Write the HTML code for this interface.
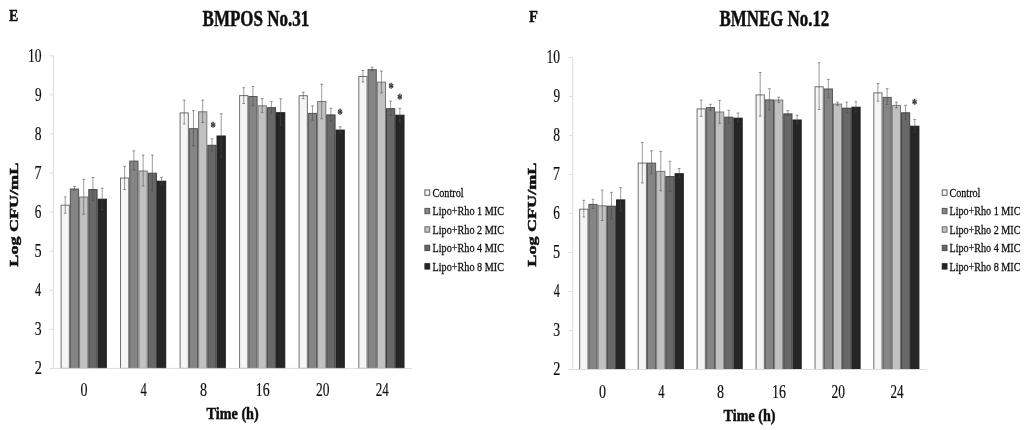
<!DOCTYPE html>
<html lang="en"><head><meta charset="utf-8"><title>Time-kill curves</title>
<style>
html,body{margin:0;padding:0;background:#fff;}
body{width:1024px;height:430px;overflow:hidden;}
svg{display:block;font-family:"Liberation Serif","Times New Roman",serif;}
</style></head><body>
<svg width="1024" height="430" viewBox="0 0 1024 430">
<defs><filter id="soft" x="0" y="0" width="1024" height="430" filterUnits="userSpaceOnUse"><feGaussianBlur stdDeviation="0.45"/></filter></defs>
<rect width="1024" height="430" fill="#fff"/>
<g filter="url(#soft)">
<rect x="61.10" y="205.20" width="8.24" height="163.20" fill="#f5f5f5" stroke="#707070" stroke-width="1"/>
<rect x="70.34" y="189.00" width="8.24" height="179.40" fill="#858585" stroke="#555555" stroke-width="1"/>
<rect x="79.58" y="197.00" width="8.24" height="171.40" fill="#c1c1c1" stroke="#787878" stroke-width="1"/>
<rect x="88.82" y="189.60" width="8.24" height="178.80" fill="#676767" stroke="#444444" stroke-width="1"/>
<rect x="98.06" y="199.20" width="8.24" height="169.20" fill="#262626" stroke="#1c1c1c" stroke-width="1"/>
<rect x="120.50" y="178.00" width="8.24" height="190.40" fill="#f5f5f5" stroke="#707070" stroke-width="1"/>
<rect x="129.74" y="161.10" width="8.24" height="207.30" fill="#858585" stroke="#555555" stroke-width="1"/>
<rect x="138.98" y="171.00" width="8.24" height="197.40" fill="#c1c1c1" stroke="#787878" stroke-width="1"/>
<rect x="148.22" y="173.20" width="8.24" height="195.20" fill="#676767" stroke="#444444" stroke-width="1"/>
<rect x="157.46" y="181.20" width="8.24" height="187.20" fill="#262626" stroke="#1c1c1c" stroke-width="1"/>
<rect x="180.10" y="112.90" width="8.24" height="255.50" fill="#f5f5f5" stroke="#707070" stroke-width="1"/>
<rect x="189.34" y="128.70" width="8.24" height="239.70" fill="#858585" stroke="#555555" stroke-width="1"/>
<rect x="198.58" y="111.80" width="8.24" height="256.60" fill="#c1c1c1" stroke="#787878" stroke-width="1"/>
<rect x="207.82" y="145.30" width="8.24" height="223.10" fill="#676767" stroke="#444444" stroke-width="1"/>
<rect x="217.06" y="136.00" width="8.24" height="232.40" fill="#262626" stroke="#1c1c1c" stroke-width="1"/>
<rect x="239.60" y="95.60" width="8.24" height="272.80" fill="#f5f5f5" stroke="#707070" stroke-width="1"/>
<rect x="248.84" y="96.50" width="8.24" height="271.90" fill="#858585" stroke="#555555" stroke-width="1"/>
<rect x="258.08" y="105.80" width="8.24" height="262.60" fill="#c1c1c1" stroke="#787878" stroke-width="1"/>
<rect x="267.32" y="107.70" width="8.24" height="260.70" fill="#676767" stroke="#444444" stroke-width="1"/>
<rect x="276.56" y="112.70" width="8.24" height="255.70" fill="#262626" stroke="#1c1c1c" stroke-width="1"/>
<rect x="299.10" y="95.70" width="8.24" height="272.70" fill="#f5f5f5" stroke="#707070" stroke-width="1"/>
<rect x="308.34" y="113.40" width="8.24" height="255.00" fill="#858585" stroke="#555555" stroke-width="1"/>
<rect x="317.58" y="101.50" width="8.24" height="266.90" fill="#c1c1c1" stroke="#787878" stroke-width="1"/>
<rect x="326.82" y="114.90" width="8.24" height="253.50" fill="#676767" stroke="#444444" stroke-width="1"/>
<rect x="336.06" y="130.10" width="8.24" height="238.30" fill="#262626" stroke="#1c1c1c" stroke-width="1"/>
<rect x="358.80" y="76.50" width="8.24" height="291.90" fill="#f5f5f5" stroke="#707070" stroke-width="1"/>
<rect x="368.04" y="69.70" width="8.24" height="298.70" fill="#858585" stroke="#555555" stroke-width="1"/>
<rect x="377.28" y="82.10" width="8.24" height="286.30" fill="#c1c1c1" stroke="#787878" stroke-width="1"/>
<rect x="386.52" y="108.70" width="8.24" height="259.70" fill="#676767" stroke="#444444" stroke-width="1"/>
<rect x="395.76" y="115.20" width="8.24" height="253.20" fill="#262626" stroke="#1c1c1c" stroke-width="1"/>
<path d="M53.40 55.75V368.40H412.00" fill="none" stroke="#dcdcdc" stroke-width="1"/>
<path d="M49.40 368.40H53.40" stroke="#dcdcdc" stroke-width="1"/>
<path d="M49.40 329.32H53.40" stroke="#dcdcdc" stroke-width="1"/>
<path d="M49.40 290.24H53.40" stroke="#dcdcdc" stroke-width="1"/>
<path d="M49.40 251.16H53.40" stroke="#dcdcdc" stroke-width="1"/>
<path d="M49.40 212.07H53.40" stroke="#dcdcdc" stroke-width="1"/>
<path d="M49.40 172.99H53.40" stroke="#dcdcdc" stroke-width="1"/>
<path d="M49.40 133.91H53.40" stroke="#dcdcdc" stroke-width="1"/>
<path d="M49.40 94.83H53.40" stroke="#dcdcdc" stroke-width="1"/>
<path d="M49.40 55.75H53.40" stroke="#dcdcdc" stroke-width="1"/>
<path d="M65.22 196.90V213.30M63.82 196.90h2.8M63.82 213.30h2.8" stroke="#4a4a4a" stroke-width="0.55" fill="none"/>
<path d="M74.46 186.50V190.30M73.06 186.50h2.8M73.06 190.30h2.8" stroke="#4a4a4a" stroke-width="0.55" fill="none"/>
<path d="M83.70 179.40V214.20M82.30 179.40h2.8M82.30 214.20h2.8" stroke="#4a4a4a" stroke-width="0.55" fill="none"/>
<path d="M92.94 177.50V200.60M91.54 177.50h2.8M91.54 200.60h2.8" stroke="#4a4a4a" stroke-width="0.55" fill="none"/>
<path d="M102.18 188.10V209.50M100.78 188.10h2.8M100.78 209.50h2.8" stroke="#4a4a4a" stroke-width="0.55" fill="none"/>
<path d="M124.62 166.40V189.60M123.22 166.40h2.8M123.22 189.60h2.8" stroke="#4a4a4a" stroke-width="0.55" fill="none"/>
<path d="M133.86 150.90V170.10M132.46 150.90h2.8M132.46 170.10h2.8" stroke="#4a4a4a" stroke-width="0.55" fill="none"/>
<path d="M143.10 155.20V185.90M141.70 155.20h2.8M141.70 185.90h2.8" stroke="#4a4a4a" stroke-width="0.55" fill="none"/>
<path d="M152.34 155.00V190.60M150.94 155.00h2.8M150.94 190.60h2.8" stroke="#4a4a4a" stroke-width="0.55" fill="none"/>
<path d="M161.58 177.30V184.00M160.18 177.30h2.8M160.18 184.00h2.8" stroke="#4a4a4a" stroke-width="0.55" fill="none"/>
<path d="M184.22 100.10V124.00M182.82 100.10h2.8M182.82 124.00h2.8" stroke="#4a4a4a" stroke-width="0.55" fill="none"/>
<path d="M193.46 110.60V145.90M192.06 110.60h2.8M192.06 145.90h2.8" stroke="#4a4a4a" stroke-width="0.55" fill="none"/>
<path d="M202.70 100.10V122.50M201.30 100.10h2.8M201.30 122.50h2.8" stroke="#4a4a4a" stroke-width="0.55" fill="none"/>
<path d="M211.94 138.80V150.80M210.54 138.80h2.8M210.54 150.80h2.8" stroke="#4a4a4a" stroke-width="0.55" fill="none"/>
<path d="M221.18 113.70V157.30M219.78 113.70h2.8M219.78 157.30h2.8" stroke="#4a4a4a" stroke-width="0.55" fill="none"/>
<path d="M243.72 87.70V103.50M242.32 87.70h2.8M242.32 103.50h2.8" stroke="#4a4a4a" stroke-width="0.55" fill="none"/>
<path d="M252.96 86.40V105.70M251.56 86.40h2.8M251.56 105.70h2.8" stroke="#4a4a4a" stroke-width="0.55" fill="none"/>
<path d="M262.20 98.50V112.40M260.80 98.50h2.8M260.80 112.40h2.8" stroke="#4a4a4a" stroke-width="0.55" fill="none"/>
<path d="M271.44 101.60V113.20M270.04 101.60h2.8M270.04 113.20h2.8" stroke="#4a4a4a" stroke-width="0.55" fill="none"/>
<path d="M280.68 98.80V125.60M279.28 98.80h2.8M279.28 125.60h2.8" stroke="#4a4a4a" stroke-width="0.55" fill="none"/>
<path d="M303.22 92.20V98.70M301.82 92.20h2.8M301.82 98.70h2.8" stroke="#4a4a4a" stroke-width="0.55" fill="none"/>
<path d="M312.46 105.80V120.10M311.06 105.80h2.8M311.06 120.10h2.8" stroke="#4a4a4a" stroke-width="0.55" fill="none"/>
<path d="M321.70 84.20V118.80M320.30 84.20h2.8M320.30 118.80h2.8" stroke="#4a4a4a" stroke-width="0.55" fill="none"/>
<path d="M330.94 108.20V120.70M329.54 108.20h2.8M329.54 120.70h2.8" stroke="#4a4a4a" stroke-width="0.55" fill="none"/>
<path d="M340.18 126.80V132.40M338.78 126.80h2.8M338.78 132.40h2.8" stroke="#4a4a4a" stroke-width="0.55" fill="none"/>
<path d="M362.92 70.50V82.00M361.52 70.50h2.8M361.52 82.00h2.8" stroke="#4a4a4a" stroke-width="0.55" fill="none"/>
<path d="M372.16 67.10V70.80M370.76 67.10h2.8M370.76 70.80h2.8" stroke="#4a4a4a" stroke-width="0.55" fill="none"/>
<path d="M381.40 71.00V92.80M380.00 71.00h2.8M380.00 92.80h2.8" stroke="#4a4a4a" stroke-width="0.55" fill="none"/>
<path d="M390.64 101.20V115.50M389.24 101.20h2.8M389.24 115.50h2.8" stroke="#4a4a4a" stroke-width="0.55" fill="none"/>
<path d="M399.88 108.20V121.60M398.48 108.20h2.8M398.48 121.60h2.8" stroke="#4a4a4a" stroke-width="0.55" fill="none"/>
<text transform="matrix(0.7767 0 0 1 34.66 374.25)" font-size="18.35" font-weight="normal" fill="#111" stroke="#111" stroke-width="0.2">2</text>
<text transform="matrix(0.7487 0 0 1 34.68 335.17)" font-size="18.35" font-weight="normal" fill="#111" stroke="#111" stroke-width="0.2">3</text>
<text transform="matrix(0.6682 0 0 1 35.05 296.09)" font-size="18.35" font-weight="normal" fill="#111" stroke="#111" stroke-width="0.2">4</text>
<text transform="matrix(0.7767 0 0 1 34.45 257.01)" font-size="18.35" font-weight="normal" fill="#111" stroke="#111" stroke-width="0.2">5</text>
<text transform="matrix(0.7226 0 0 1 34.77 217.92)" font-size="18.35" font-weight="normal" fill="#111" stroke="#111" stroke-width="0.2">6</text>
<text transform="matrix(0.7672 0 0 1 34.39 178.84)" font-size="18.35" font-weight="normal" fill="#111" stroke="#111" stroke-width="0.2">7</text>
<text transform="matrix(0.7398 0 0 1 34.76 139.76)" font-size="18.35" font-weight="normal" fill="#111" stroke="#111" stroke-width="0.2">8</text>
<text transform="matrix(0.7226 0 0 1 34.90 100.68)" font-size="18.35" font-weight="normal" fill="#111" stroke="#111" stroke-width="0.2">9</text>
<text transform="matrix(0.7413 0 0 1 27.94 61.60)" font-size="18.35" font-weight="normal" fill="#111" stroke="#111" stroke-width="0.2">10</text>
<text transform="matrix(0.7720 0 0 1 80.62 396.30)" font-size="18.20" font-weight="normal" fill="#111" stroke="#111" stroke-width="0.2">0</text>
<text transform="matrix(0.6973 0 0 1 140.60 396.30)" font-size="18.20" font-weight="normal" fill="#111" stroke="#111" stroke-width="0.2">4</text>
<text transform="matrix(0.7720 0 0 1 199.95 396.30)" font-size="18.20" font-weight="normal" fill="#111" stroke="#111" stroke-width="0.2">8</text>
<text transform="matrix(0.7638 0 0 1 255.80 396.30)" font-size="18.20" font-weight="normal" fill="#111" stroke="#111" stroke-width="0.2">16</text>
<text transform="matrix(0.7388 0 0 1 316.05 396.30)" font-size="18.20" font-weight="normal" fill="#111" stroke="#111" stroke-width="0.2">20</text>
<text transform="matrix(0.7191 0 0 1 375.73 396.30)" font-size="18.20" font-weight="normal" fill="#111" stroke="#111" stroke-width="0.2">24</text>
<text transform="matrix(0.6773 0 0 1 210.38 132.21)" font-size="15.47" font-weight="bold" fill="#333" stroke="#333" stroke-width="0.35">*</text>
<text transform="matrix(0.6773 0 0 1 337.58 118.71)" font-size="15.47" font-weight="bold" fill="#333" stroke="#333" stroke-width="0.35">*</text>
<text transform="matrix(0.6773 0 0 1 388.38 93.01)" font-size="15.47" font-weight="bold" fill="#333" stroke="#333" stroke-width="0.35">*</text>
<text transform="matrix(0.6773 0 0 1 397.18 104.41)" font-size="15.47" font-weight="bold" fill="#333" stroke="#333" stroke-width="0.35">*</text>
<rect x="579.70" y="209.20" width="8.22" height="160.30" fill="#f5f5f5" stroke="#707070" stroke-width="1"/>
<rect x="588.92" y="204.40" width="8.22" height="165.10" fill="#858585" stroke="#555555" stroke-width="1"/>
<rect x="598.14" y="205.80" width="8.22" height="163.70" fill="#c1c1c1" stroke="#787878" stroke-width="1"/>
<rect x="607.36" y="206.20" width="8.22" height="163.30" fill="#676767" stroke="#444444" stroke-width="1"/>
<rect x="616.58" y="199.90" width="8.22" height="169.60" fill="#262626" stroke="#1c1c1c" stroke-width="1"/>
<rect x="638.20" y="163.10" width="8.22" height="206.40" fill="#f5f5f5" stroke="#707070" stroke-width="1"/>
<rect x="647.42" y="163.10" width="8.22" height="206.40" fill="#858585" stroke="#555555" stroke-width="1"/>
<rect x="656.64" y="171.40" width="8.22" height="198.10" fill="#c1c1c1" stroke="#787878" stroke-width="1"/>
<rect x="665.86" y="176.60" width="8.22" height="192.90" fill="#676767" stroke="#444444" stroke-width="1"/>
<rect x="675.08" y="173.70" width="8.22" height="195.80" fill="#262626" stroke="#1c1c1c" stroke-width="1"/>
<rect x="697.10" y="108.90" width="8.22" height="260.60" fill="#f5f5f5" stroke="#707070" stroke-width="1"/>
<rect x="706.32" y="107.60" width="8.22" height="261.90" fill="#858585" stroke="#555555" stroke-width="1"/>
<rect x="715.54" y="112.00" width="8.22" height="257.50" fill="#c1c1c1" stroke="#787878" stroke-width="1"/>
<rect x="724.76" y="117.20" width="8.22" height="252.30" fill="#676767" stroke="#444444" stroke-width="1"/>
<rect x="733.98" y="118.20" width="8.22" height="251.30" fill="#262626" stroke="#1c1c1c" stroke-width="1"/>
<rect x="756.10" y="94.90" width="8.22" height="274.60" fill="#f5f5f5" stroke="#707070" stroke-width="1"/>
<rect x="765.32" y="99.90" width="8.22" height="269.60" fill="#858585" stroke="#555555" stroke-width="1"/>
<rect x="774.54" y="100.10" width="8.22" height="269.40" fill="#c1c1c1" stroke="#787878" stroke-width="1"/>
<rect x="783.76" y="113.90" width="8.22" height="255.60" fill="#676767" stroke="#444444" stroke-width="1"/>
<rect x="792.98" y="120.00" width="8.22" height="249.50" fill="#262626" stroke="#1c1c1c" stroke-width="1"/>
<rect x="815.00" y="86.80" width="8.22" height="282.70" fill="#f5f5f5" stroke="#707070" stroke-width="1"/>
<rect x="824.22" y="89.00" width="8.22" height="280.50" fill="#858585" stroke="#555555" stroke-width="1"/>
<rect x="833.44" y="104.10" width="8.22" height="265.40" fill="#c1c1c1" stroke="#787878" stroke-width="1"/>
<rect x="842.66" y="108.20" width="8.22" height="261.30" fill="#676767" stroke="#444444" stroke-width="1"/>
<rect x="851.88" y="107.20" width="8.22" height="262.30" fill="#262626" stroke="#1c1c1c" stroke-width="1"/>
<rect x="873.80" y="92.90" width="8.22" height="276.60" fill="#f5f5f5" stroke="#707070" stroke-width="1"/>
<rect x="883.02" y="97.40" width="8.22" height="272.10" fill="#858585" stroke="#555555" stroke-width="1"/>
<rect x="892.24" y="105.40" width="8.22" height="264.10" fill="#c1c1c1" stroke="#787878" stroke-width="1"/>
<rect x="901.46" y="112.80" width="8.22" height="256.70" fill="#676767" stroke="#444444" stroke-width="1"/>
<rect x="910.68" y="126.20" width="8.22" height="243.30" fill="#262626" stroke="#1c1c1c" stroke-width="1"/>
<path d="M572.80 57.40V369.50H926.60" fill="none" stroke="#dcdcdc" stroke-width="1"/>
<path d="M568.80 369.50H572.80" stroke="#dcdcdc" stroke-width="1"/>
<path d="M568.80 330.49H572.80" stroke="#dcdcdc" stroke-width="1"/>
<path d="M568.80 291.48H572.80" stroke="#dcdcdc" stroke-width="1"/>
<path d="M568.80 252.46H572.80" stroke="#dcdcdc" stroke-width="1"/>
<path d="M568.80 213.45H572.80" stroke="#dcdcdc" stroke-width="1"/>
<path d="M568.80 174.44H572.80" stroke="#dcdcdc" stroke-width="1"/>
<path d="M568.80 135.42H572.80" stroke="#dcdcdc" stroke-width="1"/>
<path d="M568.80 96.41H572.80" stroke="#dcdcdc" stroke-width="1"/>
<path d="M568.80 57.40H572.80" stroke="#dcdcdc" stroke-width="1"/>
<path d="M583.81 200.30V217.00M582.41 200.30h2.8M582.41 217.00h2.8" stroke="#4a4a4a" stroke-width="0.55" fill="none"/>
<path d="M593.03 199.20V208.50M591.63 199.20h2.8M591.63 208.50h2.8" stroke="#4a4a4a" stroke-width="0.55" fill="none"/>
<path d="M602.25 190.10V220.50M600.85 190.10h2.8M600.85 220.50h2.8" stroke="#4a4a4a" stroke-width="0.55" fill="none"/>
<path d="M611.47 192.30V219.00M610.07 192.30h2.8M610.07 219.00h2.8" stroke="#4a4a4a" stroke-width="0.55" fill="none"/>
<path d="M620.69 187.70V211.00M619.29 187.70h2.8M619.29 211.00h2.8" stroke="#4a4a4a" stroke-width="0.55" fill="none"/>
<path d="M642.31 142.50V183.00M640.91 142.50h2.8M640.91 183.00h2.8" stroke="#4a4a4a" stroke-width="0.55" fill="none"/>
<path d="M651.53 150.80V173.70M650.13 150.80h2.8M650.13 173.70h2.8" stroke="#4a4a4a" stroke-width="0.55" fill="none"/>
<path d="M660.75 151.40V190.80M659.35 151.40h2.8M659.35 190.80h2.8" stroke="#4a4a4a" stroke-width="0.55" fill="none"/>
<path d="M669.97 161.30V191.40M668.57 161.30h2.8M668.57 191.40h2.8" stroke="#4a4a4a" stroke-width="0.55" fill="none"/>
<path d="M679.19 168.50V177.40M677.79 168.50h2.8M677.79 177.40h2.8" stroke="#4a4a4a" stroke-width="0.55" fill="none"/>
<path d="M701.21 100.00V116.40M699.81 100.00h2.8M699.81 116.40h2.8" stroke="#4a4a4a" stroke-width="0.55" fill="none"/>
<path d="M710.43 104.30V110.20M709.03 104.30h2.8M709.03 110.20h2.8" stroke="#4a4a4a" stroke-width="0.55" fill="none"/>
<path d="M719.65 100.40V123.30M718.25 100.40h2.8M718.25 123.30h2.8" stroke="#4a4a4a" stroke-width="0.55" fill="none"/>
<path d="M728.87 110.20V123.30M727.47 110.20h2.8M727.47 123.30h2.8" stroke="#4a4a4a" stroke-width="0.55" fill="none"/>
<path d="M738.09 113.00V122.00M736.69 113.00h2.8M736.69 122.00h2.8" stroke="#4a4a4a" stroke-width="0.55" fill="none"/>
<path d="M760.21 72.50V116.20M758.81 72.50h2.8M758.81 116.20h2.8" stroke="#4a4a4a" stroke-width="0.55" fill="none"/>
<path d="M769.43 88.80V109.90M768.03 88.80h2.8M768.03 109.90h2.8" stroke="#4a4a4a" stroke-width="0.55" fill="none"/>
<path d="M778.65 97.20V102.40M777.25 97.20h2.8M777.25 102.40h2.8" stroke="#4a4a4a" stroke-width="0.55" fill="none"/>
<path d="M787.87 110.60V115.40M786.47 110.60h2.8M786.47 115.40h2.8" stroke="#4a4a4a" stroke-width="0.55" fill="none"/>
<path d="M797.09 115.30V123.30M795.69 115.30h2.8M795.69 123.30h2.8" stroke="#4a4a4a" stroke-width="0.55" fill="none"/>
<path d="M819.11 62.70V109.50M817.71 62.70h2.8M817.71 109.50h2.8" stroke="#4a4a4a" stroke-width="0.55" fill="none"/>
<path d="M828.33 79.40V97.40M826.93 79.40h2.8M826.93 97.40h2.8" stroke="#4a4a4a" stroke-width="0.55" fill="none"/>
<path d="M837.55 102.10V105.30M836.15 102.10h2.8M836.15 105.30h2.8" stroke="#4a4a4a" stroke-width="0.55" fill="none"/>
<path d="M846.77 102.10V112.90M845.37 102.10h2.8M845.37 112.90h2.8" stroke="#4a4a4a" stroke-width="0.55" fill="none"/>
<path d="M855.99 101.70V112.00M854.59 101.70h2.8M854.59 112.00h2.8" stroke="#4a4a4a" stroke-width="0.55" fill="none"/>
<path d="M877.91 83.50V101.20M876.51 83.50h2.8M876.51 101.20h2.8" stroke="#4a4a4a" stroke-width="0.55" fill="none"/>
<path d="M887.13 88.70V104.50M885.73 88.70h2.8M885.73 104.50h2.8" stroke="#4a4a4a" stroke-width="0.55" fill="none"/>
<path d="M896.35 102.10V108.00M894.95 102.10h2.8M894.95 108.00h2.8" stroke="#4a4a4a" stroke-width="0.55" fill="none"/>
<path d="M905.57 105.30V119.20M904.17 105.30h2.8M904.17 119.20h2.8" stroke="#4a4a4a" stroke-width="0.55" fill="none"/>
<path d="M914.79 119.40V132.00M913.39 119.40h2.8M913.39 132.00h2.8" stroke="#4a4a4a" stroke-width="0.55" fill="none"/>
<text transform="matrix(0.7767 0 0 1 553.26 375.35)" font-size="18.35" font-weight="normal" fill="#111" stroke="#111" stroke-width="0.2">2</text>
<text transform="matrix(0.7487 0 0 1 553.28 336.34)" font-size="18.35" font-weight="normal" fill="#111" stroke="#111" stroke-width="0.2">3</text>
<text transform="matrix(0.6682 0 0 1 553.65 297.33)" font-size="18.35" font-weight="normal" fill="#111" stroke="#111" stroke-width="0.2">4</text>
<text transform="matrix(0.7767 0 0 1 553.04 258.31)" font-size="18.35" font-weight="normal" fill="#111" stroke="#111" stroke-width="0.2">5</text>
<text transform="matrix(0.7226 0 0 1 553.37 219.30)" font-size="18.35" font-weight="normal" fill="#111" stroke="#111" stroke-width="0.2">6</text>
<text transform="matrix(0.7672 0 0 1 552.99 180.29)" font-size="18.35" font-weight="normal" fill="#111" stroke="#111" stroke-width="0.2">7</text>
<text transform="matrix(0.7398 0 0 1 553.36 141.27)" font-size="18.35" font-weight="normal" fill="#111" stroke="#111" stroke-width="0.2">8</text>
<text transform="matrix(0.7226 0 0 1 553.50 102.26)" font-size="18.35" font-weight="normal" fill="#111" stroke="#111" stroke-width="0.2">9</text>
<text transform="matrix(0.7413 0 0 1 546.54 63.25)" font-size="18.35" font-weight="normal" fill="#111" stroke="#111" stroke-width="0.2">10</text>
<text transform="matrix(0.7720 0 0 1 598.97 397.90)" font-size="18.20" font-weight="normal" fill="#111" stroke="#111" stroke-width="0.2">0</text>
<text transform="matrix(0.6973 0 0 1 658.25 397.90)" font-size="18.20" font-weight="normal" fill="#111" stroke="#111" stroke-width="0.2">4</text>
<text transform="matrix(0.7720 0 0 1 716.90 397.90)" font-size="18.20" font-weight="normal" fill="#111" stroke="#111" stroke-width="0.2">8</text>
<text transform="matrix(0.7638 0 0 1 772.05 397.90)" font-size="18.20" font-weight="normal" fill="#111" stroke="#111" stroke-width="0.2">16</text>
<text transform="matrix(0.7388 0 0 1 831.60 397.90)" font-size="18.20" font-weight="normal" fill="#111" stroke="#111" stroke-width="0.2">20</text>
<text transform="matrix(0.7191 0 0 1 890.58 397.90)" font-size="18.20" font-weight="normal" fill="#111" stroke="#111" stroke-width="0.2">24</text>
<text transform="matrix(0.6773 0 0 1 911.98 109.41)" font-size="15.47" font-weight="bold" fill="#333" stroke="#333" stroke-width="0.35">*</text>
<text transform="matrix(0.8090 0 0 1 8.99 21.10)" font-size="17.10" font-weight="bold" fill="#111" stroke="#111" stroke-width="0.5">E</text>
<text transform="matrix(0.8431 0 0 1 529.08 21.60)" font-size="17.25" font-weight="bold" fill="#111" stroke="#111" stroke-width="0.5">F</text>
<text transform="matrix(0.7683 0 0 1 202.54 26.00)" font-size="22.14" font-weight="bold" fill="#111" stroke="#111" stroke-width="0.5">BMPOS No.31</text>
<text transform="matrix(0.7640 0 0 1 719.45 26.00)" font-size="22.14" font-weight="bold" fill="#111" stroke="#111" stroke-width="0.5">BMNEG No.12</text>
<text transform="matrix(0.8158 0 0 1 206.59 419.40)" font-size="17.40" font-weight="bold" fill="#111" stroke="#111" stroke-width="0.5">Time (h)</text>
<text transform="matrix(0.8111 0 0 1 723.59 421.00)" font-size="17.40" font-weight="bold" fill="#111" stroke="#111" stroke-width="0.5">Time (h)</text>
<text transform="matrix(0 -1.4103 1 0 18.20 266.67)" font-size="12.82" font-weight="bold" fill="#111" stroke="#111" stroke-width="0.5">Log CFU/mL</text>
<text transform="matrix(0 -1.3775 1 0 536.00 266.67)" font-size="13.13" font-weight="bold" fill="#111" stroke="#111" stroke-width="0.5">Log CFU/mL</text>
<rect x="424.90" y="189.90" width="4.8" height="5.4" fill="#f5f5f5" stroke="#4c4c4c" stroke-width="0.9"/>
<text transform="matrix(0.7589 0 0 1 432.39 196.80)" font-size="13.48" font-weight="normal" fill="#111" stroke="#111" stroke-width="0.3">Control</text>
<rect x="424.90" y="208.35" width="4.8" height="5.4" fill="#858585" stroke="#505050" stroke-width="0.9"/>
<text transform="matrix(0.7576 0 0 1 432.49 215.25)" font-size="13.48" font-weight="normal" fill="#111" stroke="#111" stroke-width="0.3">Lipo+Rho 1 MIC</text>
<rect x="424.90" y="226.80" width="4.8" height="5.4" fill="#c1c1c1" stroke="#606060" stroke-width="0.9"/>
<text transform="matrix(0.7576 0 0 1 432.49 233.70)" font-size="13.48" font-weight="normal" fill="#111" stroke="#111" stroke-width="0.3">Lipo+Rho 2 MIC</text>
<rect x="424.90" y="245.25" width="4.8" height="5.4" fill="#676767" stroke="#444444" stroke-width="0.9"/>
<text transform="matrix(0.7576 0 0 1 432.49 252.15)" font-size="13.48" font-weight="normal" fill="#111" stroke="#111" stroke-width="0.3">Lipo+Rho 4 MIC</text>
<rect x="424.90" y="263.70" width="4.8" height="5.4" fill="#262626" stroke="#1c1c1c" stroke-width="0.9"/>
<text transform="matrix(0.7576 0 0 1 432.49 270.60)" font-size="13.48" font-weight="normal" fill="#111" stroke="#111" stroke-width="0.3">Lipo+Rho 8 MIC</text>
<rect x="942.20" y="189.90" width="4.8" height="5.4" fill="#f5f5f5" stroke="#4c4c4c" stroke-width="0.9"/>
<text transform="matrix(0.7539 0 0 1 949.39 196.80)" font-size="13.48" font-weight="normal" fill="#111" stroke="#111" stroke-width="0.3">Control</text>
<rect x="942.20" y="208.35" width="4.8" height="5.4" fill="#858585" stroke="#505050" stroke-width="0.9"/>
<text transform="matrix(0.7512 0 0 1 949.50 215.25)" font-size="13.48" font-weight="normal" fill="#111" stroke="#111" stroke-width="0.3">Lipo+Rho 1 MIC</text>
<rect x="942.20" y="226.80" width="4.8" height="5.4" fill="#c1c1c1" stroke="#606060" stroke-width="0.9"/>
<text transform="matrix(0.7512 0 0 1 949.50 233.70)" font-size="13.48" font-weight="normal" fill="#111" stroke="#111" stroke-width="0.3">Lipo+Rho 2 MIC</text>
<rect x="942.20" y="245.25" width="4.8" height="5.4" fill="#676767" stroke="#444444" stroke-width="0.9"/>
<text transform="matrix(0.7512 0 0 1 949.50 252.15)" font-size="13.48" font-weight="normal" fill="#111" stroke="#111" stroke-width="0.3">Lipo+Rho 4 MIC</text>
<rect x="942.20" y="263.70" width="4.8" height="5.4" fill="#262626" stroke="#1c1c1c" stroke-width="0.9"/>
<text transform="matrix(0.7512 0 0 1 949.50 270.60)" font-size="13.48" font-weight="normal" fill="#111" stroke="#111" stroke-width="0.3">Lipo+Rho 8 MIC</text>
</g>
</svg>
</body></html>
